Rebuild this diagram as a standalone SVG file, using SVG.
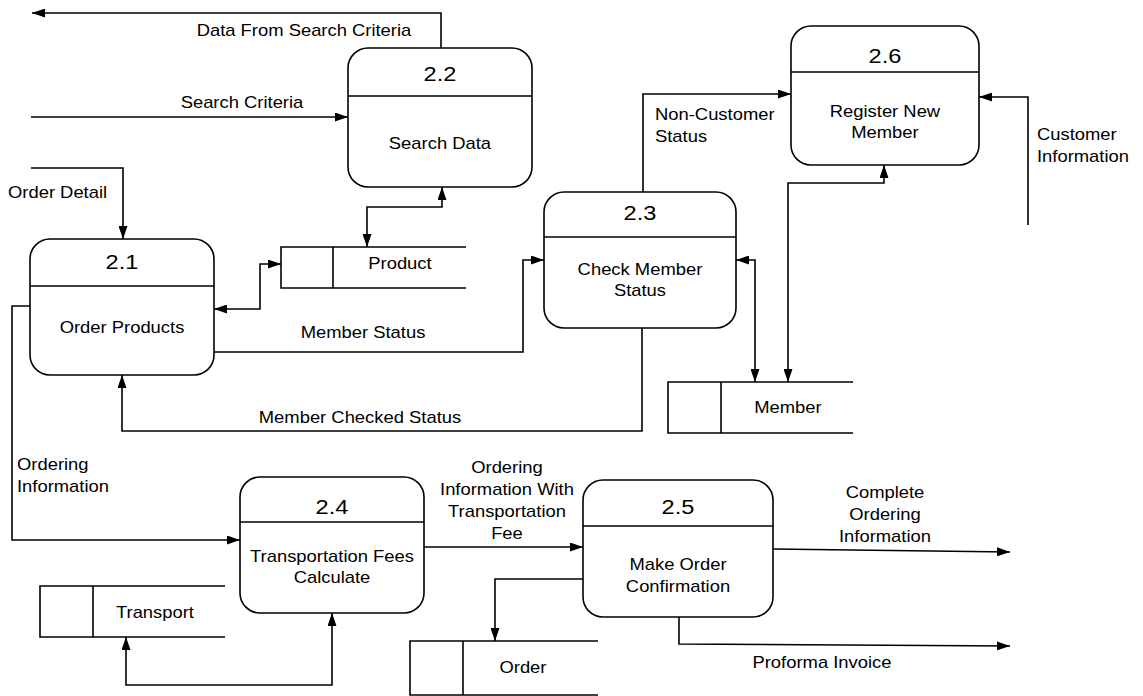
<svg xmlns="http://www.w3.org/2000/svg" width="1143" height="696" viewBox="0 0 1143 696">
<style>
text { font-family: "Liberation Sans", Arial, sans-serif; fill: #000; }
.lbl { font-size: 16px; }
.num { font-size: 20.5px; }
.c { text-anchor: middle; transform-box: fill-box; transform-origin: center; transform: scaleX(1.15); }
.st { text-anchor: start; transform-box: fill-box; transform-origin: left center; transform: scaleX(1.15); }
.proc { fill: #fff; stroke: #000; stroke-width: 1.6; }
.div { stroke: #000; stroke-width: 1.6; }
.store { fill: none; stroke: #000; stroke-width: 1.6; }
.flow { fill: none; stroke: #000; stroke-width: 1.6; }
</style>
<defs>
<marker id="ah" viewBox="0 0 13 9" refX="13" refY="4.5" markerWidth="13" markerHeight="9" orient="auto-start-reverse" markerUnits="userSpaceOnUse">
<path d="M0,0 L13,4.5 L0,9 z" fill="#000"/>
</marker>
</defs>
<rect width="1143" height="696" fill="#fff"/>

<g id="connectors">
<path class="flow" d="M441,48 V13 H32" marker-end="url(#ah)"/>
<path class="flow" d="M31,117 H348" marker-end="url(#ah)"/>
<path class="flow" d="M31,168 H123 V239" marker-end="url(#ah)"/>
<path class="flow" d="M367,247 V207 H442 V187" marker-start="url(#ah)" marker-end="url(#ah)"/>
<path class="flow" d="M281,264 H260 V309 H214" marker-start="url(#ah)" marker-end="url(#ah)"/>
<path class="flow" d="M214,352 H523 V260 H544" marker-end="url(#ah)"/>
<path class="flow" d="M642,328 V431 H122 V375" marker-end="url(#ah)"/>
<path class="flow" d="M643,192 V94 H791" marker-end="url(#ah)"/>
<path class="flow" d="M1028,225 V97 H979" marker-end="url(#ah)"/>
<path class="flow" d="M755,382 V260 H736" marker-start="url(#ah)" marker-end="url(#ah)"/>
<path class="flow" d="M788,382 V183 H884 V165" marker-start="url(#ah)" marker-end="url(#ah)"/>
<path class="flow" d="M30,306 H12 V540 H240" marker-end="url(#ah)"/>
<path class="flow" d="M126,637 V685 H332 V613" marker-start="url(#ah)" marker-end="url(#ah)"/>
<path class="flow" d="M424,547 H583" marker-end="url(#ah)"/>
<path class="flow" d="M583,579 H495 V641" marker-end="url(#ah)"/>
<path class="flow" d="M773,549 L1010,552" marker-end="url(#ah)"/>
<path class="flow" d="M679,617 V644 L1010,646" marker-end="url(#ah)"/>

<text class="lbl c" x="304" y="36">Data From Search Criteria</text>
<text class="lbl c" x="242" y="108">Search Criteria</text>
<text class="lbl st" x="8" y="198">Order Detail</text>
<text class="lbl c" x="363" y="338">Member Status</text>
<text class="lbl c" x="360" y="423">Member Checked Status</text>
<text class="lbl st" x="655" y="120">Non-Customer<tspan x="655" y="142">Status</tspan></text>
<text class="lbl st" x="1037" y="140">Customer<tspan x="1037" y="162">Information</tspan></text>
<text class="lbl st" x="17" y="470">Ordering<tspan x="17" y="492">Information</tspan></text>
<text class="lbl c" x="507" y="473">Ordering<tspan x="507" y="495">Information With</tspan><tspan x="507" y="517">Transportation</tspan><tspan x="507" y="539">Fee</tspan></text>
<text class="lbl c" x="885" y="498">Complete<tspan x="885" y="520">Ordering</tspan><tspan x="885" y="542">Information</tspan></text>
<text class="lbl c" x="822" y="668">Proforma Invoice</text>
</g>

<g id="p2_2">
<rect class="proc" x="348" y="48" width="184" height="139" rx="20"/>
<line class="div" x1="348" y1="96" x2="532" y2="96"/>
<text class="num c" x="440" y="81">2.2</text>
<text class="lbl c" x="440" y="149">Search Data</text>
</g>

<g id="p2_6">
<rect class="proc" x="791" y="26" width="188" height="139" rx="20"/>
<line class="div" x1="791" y1="72" x2="979" y2="72"/>
<text class="num c" x="885" y="63">2.6</text>
<text class="lbl c" x="885" y="117">Register New<tspan x="885" y="138">Member</tspan></text>
</g>

<g id="p2_3">
<rect class="proc" x="544" y="192" width="192" height="136" rx="20"/>
<line class="div" x1="544" y1="237" x2="736" y2="237"/>
<text class="num c" x="640" y="220">2.3</text>
<text class="lbl c" x="640" y="275">Check Member<tspan x="640" y="296">Status</tspan></text>
</g>

<g id="p2_1">
<rect class="proc" x="30" y="239" width="184" height="136" rx="20"/>
<line class="div" x1="30" y1="286" x2="214" y2="286"/>
<text class="num c" x="122" y="269">2.1</text>
<text class="lbl c" x="122" y="333">Order Products</text>
</g>

<g id="p2_4">
<rect class="proc" x="240" y="477" width="184" height="136" rx="20"/>
<line class="div" x1="240" y1="522" x2="424" y2="522"/>
<text class="num c" x="332" y="514">2.4</text>
<text class="lbl c" x="332" y="562">Transportation Fees<tspan x="332" y="583">Calculate</tspan></text>
</g>

<g id="p2_5">
<rect class="proc" x="583" y="480" width="190" height="137" rx="20"/>
<line class="div" x1="583" y1="526" x2="773" y2="526"/>
<text class="num c" x="678" y="514">2.5</text>
<text class="lbl c" x="678" y="570">Make Order<tspan x="678" y="592">Confirmation</tspan></text>
</g>

<g id="ds_product">
<path class="store" d="M466,247 H281 V288 H466 M333,247 V288"/>
<text class="lbl c" x="400" y="269">Product</text>
</g>

<g id="ds_member">
<path class="store" d="M853,382 H668 V433 H853 M721,382 V433"/>
<text class="lbl c" x="788" y="413">Member</text>
</g>

<g id="ds_transport">
<path class="store" d="M225,586 H40 V637 H225 M93,586 V637"/>
<text class="lbl c" x="155" y="618">Transport</text>
</g>

<g id="ds_order">
<path class="store" d="M598,641 H410 V695 H598 M463,641 V695"/>
<text class="lbl c" x="523" y="673">Order</text>
</g>
</svg>
